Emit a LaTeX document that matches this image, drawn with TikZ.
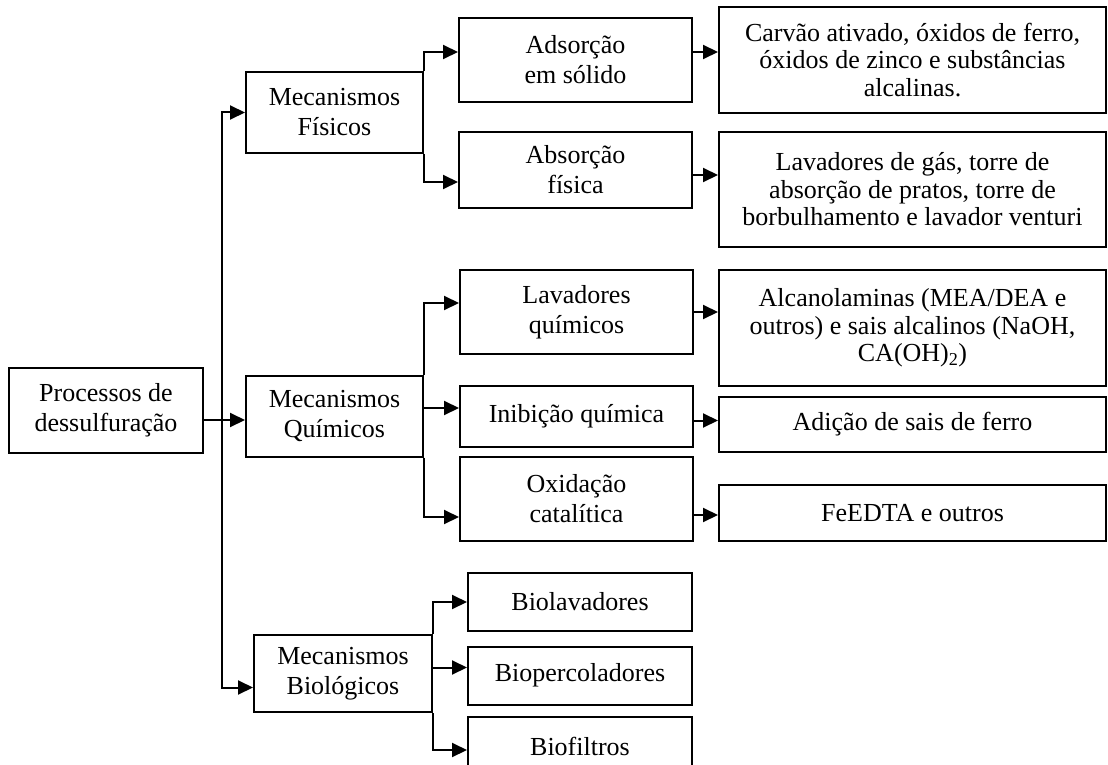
\documentclass[tikz,border=0pt]{standalone}
\usepackage{fontspec}
\setmainfont{Liberation Serif}
\usepackage{tikz}
\usetikzlibrary{arrows.meta}
\usetikzlibrary{positioning}
\usetikzlibrary{calc}

\begin{document}
\begin{tikzpicture}[x=1pt,y=-1pt,line width=2pt,
  box/.style={draw,align=center,inner sep=0pt,font=\fontsize{26}{30}\selectfont},
  mec/.style={box,minimum width=177pt,minimum height=81pt},
  tec/.style={box,minimum width=233pt},
  ex/.style={box,minimum width=387pt,font=\fontsize{26}{27.5}\selectfont},
  bio/.style={box,minimum width=224pt,minimum height=58pt},
  >={Triangle[length=15pt,width=14pt]}]
\useasboundingbox (0,0) rectangle (1108,765);
\node [box,minimum width=194pt,minimum height=85pt] (z) at (106,410.5) {Processos de\\dessulfuração};
\node [mec] (a) at (334.5,112.5) {Mecanismos\\Físicos};
\node [mec] (b) at (334.5,416) {Mecanismos\\Químicos};
\node [mec,minimum width=178pt,minimum height=77pt] (c) at (343,673.5) {Mecanismos\\Biológicos};
% fisicos
\node [tec,minimum height=84pt] (aa) at (575.5,60) {Adsorção\\em sólido};
\node [tec,minimum height=76pt] (ab) at (575.5,170) {Absorção\\física};
\node [ex,minimum height=106pt] (aaa) at (912.5,60) {Carvão ativado, óxidos de ferro,\\óxidos de zinco e substâncias\\alcalinas.};
\node [ex,minimum height=115pt] (aba) at (912.5,189.5) {Lavadores de gás, torre de\\absorção de pratos, torre de\\borbulhamento e lavador venturi};
% quimicos
\node [tec,minimum height=84pt] (ba) at (576.5,312) {Lavadores\\químicos};
\node [tec,minimum height=61pt] (bb) at (576.5,416.5) {Inibição química};
\node [tec,minimum height=84pt] (bc) at (576.5,499) {Oxidação\\catalítica};
\node [ex,minimum height=116pt] (baa) at (912.5,328) {Alcanolaminas (MEA/DEA e\\outros) e sais alcalinos (NaOH,\\CA(OH)\textsubscript{2})};
\node [ex,minimum height=55pt] (bba) at (912.5,424.5) {Adição de sais de ferro};
\node [ex,minimum height=56pt] (bca) at (912.5,513) {FeEDTA e outros};
% biologicos
\node [bio] (ca) at (580,602) {Biolavadores};
\node [bio] (cb) at (580,675.5) {Biopercoladores};
\node [bio] (cc) at (580,746) {Biofiltros};

\coordinate (t) at (222,420);
\draw [->] ([yshift=-4pt]b.west -| z.east) -- ([yshift=-4pt]b.west);
\draw [->] (t) |- (a.west);
\draw [->] (t) |- ([yshift=-14pt]c.west);

\draw [->] (a.north east) |- ([yshift=8pt]aa.west);
\draw [->] (a.south east) |- ([yshift=-12pt]ab.west);
\draw [->] ([yshift=8pt]aa.east) -- ([yshift=8pt]aaa.west);
\draw [->] ([yshift=-5pt]ab.east) -- ([yshift=-5pt]ab.east -| aba.west);

\draw [->] (b.north east) |- ([yshift=9pt]ba.west);
\draw [->] ([yshift=8pt]b.east) -- ([yshift=8pt]b.east -| bb.west);
\draw [->] (b.south east) |- ([yshift=-18pt]bc.west);
\draw [->] (ba.east) -- (ba.east -| baa.west);
\draw [->] ([yshift=-4pt]bb.east) -- ([yshift=-4pt]bb.east -| bba.west);
\draw [->] ([yshift=-16pt]bc.east) -- ([yshift=-16pt]bc.east -| bca.west);

\draw [->] (c.north east) |- (ca.west);
\draw [->] ([yshift=6pt]c.east) -- ([yshift=6pt]c.east -| cb.west);
\draw [->] (c.south east) |- ([yshift=-4pt]cc.west);
\end{tikzpicture}
\end{document}
